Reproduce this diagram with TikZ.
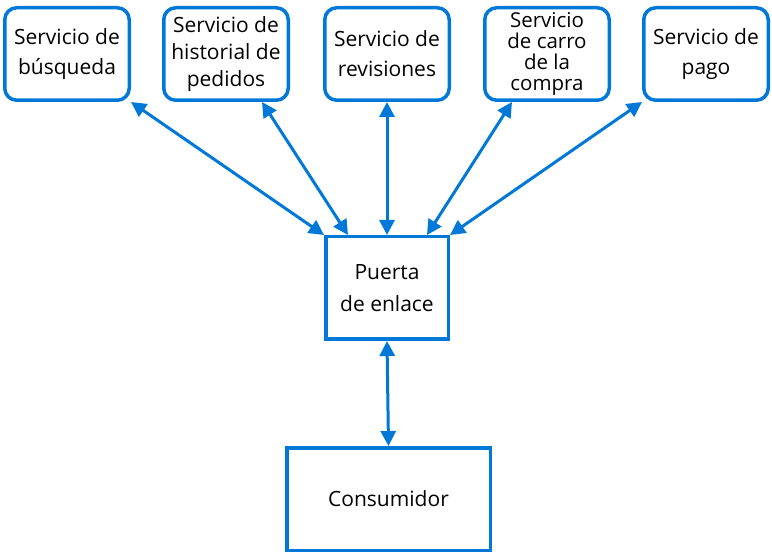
\documentclass[tikz,border=0pt]{standalone}
\usepackage{fontspec}
\setmainfont{Open Sans}
\usetikzlibrary{arrows.meta}
\definecolor{azul}{HTML}{0078D7}
\begin{document}
\begin{tikzpicture}[x=1pt, y=-1pt,
		servicio/.style={draw=azul, line width=3.5pt, rounded corners=12pt, fill=white, minimum width=124.5pt, minimum height=92.5pt, align=center, inner sep=0pt, font=\fontsize{21}{28}\selectfont},
		caja/.style={draw=azul, line width=3.5pt, fill=white, minimum height=102.5pt, align=center, inner sep=0pt, font=\fontsize{21}{32}\selectfont},
		enlace/.style={azul, line width=3pt, {Triangle[length=15pt, width=15pt]}-{Triangle[length=15pt, width=15pt]}}]
				\useasboundingbox (0, 0) rectangle (772, 556);
				\node[servicio, font=\fontsize{21}{30}\selectfont] (busqueda) at (67, 54) {Servicio de\\búsqueda};
				\node[servicio, font=\fontsize{21}{27}\selectfont] (historial) at (226, 54) {Servicio de\\historial de\\pedidos};
				\node[servicio, font=\fontsize{21}{30}\selectfont] (revisiones) at (387, 54) {Servicio de\\revisiones};
				\node[servicio, font=\fontsize{20.5}{21}\selectfont] (carro) at (547, 54) {Servicio\\de carro\\de la\\compra};
				\node[servicio, font=\fontsize{21}{30}\selectfont] (pago) at (706, 54) {Servicio de\\pago};
				\node[caja, minimum width=122.5pt] (puerta) at (387, 288) {Puerta\\de enlace};
				\node[caja, minimum width=203.5pt] (consumidor) at (388.5, 499) {Consumidor};
				\draw[enlace] (busqueda.south east) -- (puerta.north west);
				\draw[enlace] ([xshift=36pt]historial.south) -- ([xshift=-39pt]puerta.north);
				\draw[enlace] (revisiones.south) -- (puerta.north);
				\draw[enlace] ([xshift=-35pt]carro.south) -- ([xshift=40pt]puerta.north);
				\draw[enlace] (pago.south west) -- (puerta.north east);
				\draw[enlace] (puerta.south) -- (consumidor.north);
			\end{tikzpicture}
\end{document}
